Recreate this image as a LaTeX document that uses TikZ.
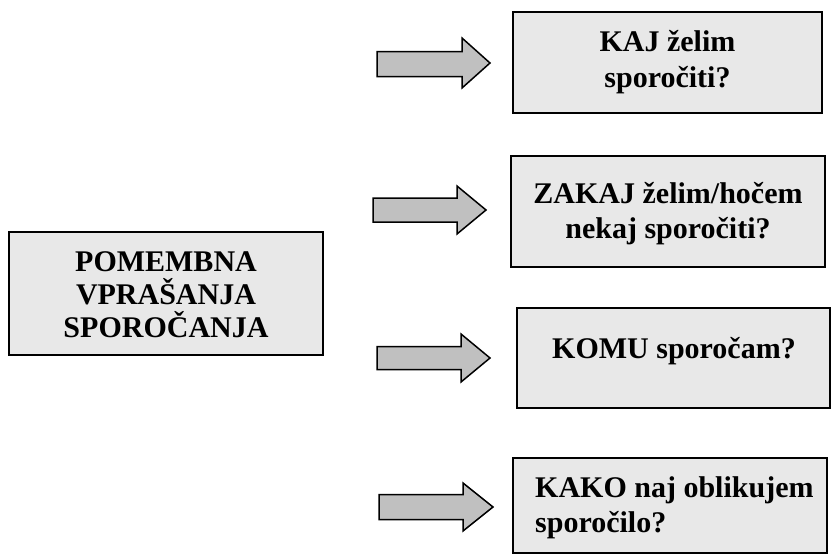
\documentclass[tikz,border=0pt]{standalone}
\usepackage{fontspec}
\setmainfont{Liberation Serif}
\definecolor{boxgray}{HTML}{E8E8E8}
\definecolor{arrgray}{HTML}{C0C0C0}
\begin{document}
\begin{tikzpicture}[x=1pt,y=-1pt,
  box/.style={draw=black, line width=1.6pt, fill=boxgray, rectangle, inner sep=0pt},
  arr/.style={draw=black, line width=1.5pt, fill=arrgray, line join=miter},
  txt/.style={font=\fontsize{30}{34}\selectfont\bfseries, inner sep=0pt, anchor=base},
  txtl/.style={txt, anchor=base west}]
\useasboundingbox (0,0) rectangle (831,554);
% boxes
\node[box, minimum width=309pt, minimum height=101pt] (b1) at (667.5,62.5) {};
\node[box, minimum width=314pt, minimum height=111pt] (b2) at (668,211.5) {};
\node[box, minimum width=313pt, minimum height=100pt] (b3) at (673.5,358) {};
\node[box, minimum width=314pt, minimum height=95pt] (b4) at (670,505.5) {};
\node[box, minimum width=314pt, minimum height=123pt] (L) at (166,293.5) {};
% texts
\node[txt] (t1a) at (667.5,52) {KAJ želim};
\node[txt] (t1b) at (667.5,87) {sporočiti?};
\node[txt] (t2a) at (668,203) {ZAKAJ želim/hočem};
\node[txt] (t2b) at (668,238) {nekaj sporočiti?};
\node[txt] (t3) at (674,358) {KOMU sporočam?};
\node[txtl] (t4a) at (535,497) {KAKO naj oblikujem};
\node[txtl] (t4b) at (535,532) {sporočilo?};
\node[txt] (l1) at (166,271) {POMEMBNA};
\node[txt] (l2) at (166,304) {VPRAŠANJA};
\node[txt] (l3) at (166,337) {SPOROČANJA};
% block arrows
\draw[arr] (377,51.5) -- (462,51.5) -- (462,38) -- (490,63) -- (462,88) -- (462,76.5) -- (377,76.5) -- cycle;
\draw[arr] (373,198) -- (457,198) -- (457,186) -- (486,210) -- (457,234) -- (457,222) -- (373,222) -- cycle;
\draw[arr] (377,346.5) -- (461,346.5) -- (461,334) -- (490,358) -- (461,382) -- (461,369.5) -- (377,369.5) -- cycle;
\draw[arr] (379,494.5) -- (463,494.5) -- (463,483) -- (493,507) -- (463,531) -- (463,519.5) -- (379,519.5) -- cycle;
\end{tikzpicture}
\end{document}
